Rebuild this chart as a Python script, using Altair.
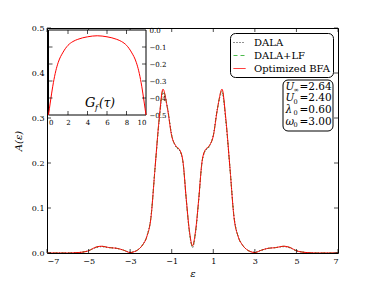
import altair as alt
import pandas as pd

# ---- data ----
eps = [-7, -6, -5.5, -5, -4.7, -4.4, -4.0, -3.6, -3.3, -3.0, -2.8, -2.6, -2.4, -2.2, -2.0,
       -1.8, -1.6, -1.42, -1.2, -1.0, -0.8, -0.6, -0.45, -0.3, -0.15, 0.0, 0.15, 0.3, 0.45,
       0.6, 0.8, 1.0, 1.2, 1.42, 1.6, 1.8, 2.0, 2.2, 2.4, 2.6, 2.8, 3.0, 3.3, 3.6, 4.0, 4.4,
       4.7, 5.0, 5.5, 6, 7]
bfa = [0, 0, 0.001, 0.005, 0.012, 0.015, 0.012, 0.010, 0.006, 0.001, 0.003, 0.008, 0.018,
       0.036, 0.078, 0.19, 0.30, 0.364, 0.32, 0.26, 0.238, 0.228, 0.20, 0.12, 0.05, 0.016,
       0.05, 0.12, 0.20, 0.228, 0.238, 0.26, 0.32, 0.364, 0.30, 0.19, 0.078, 0.036, 0.018,
       0.008, 0.003, 0.001, 0.006, 0.010, 0.012, 0.015, 0.012, 0.005, 0.001, 0, 0]
dala = [0, 0, 0.001, 0.005, 0.011, 0.014, 0.012, 0.010, 0.006, 0.002, 0.003, 0.008, 0.018,
        0.037, 0.080, 0.19, 0.295, 0.356, 0.322, 0.262, 0.236, 0.226, 0.198, 0.118, 0.046,
        0.012, 0.046, 0.118, 0.198, 0.226, 0.236, 0.262, 0.322, 0.356, 0.295, 0.19, 0.080,
        0.037, 0.018, 0.008, 0.003, 0.002, 0.006, 0.010, 0.012, 0.014, 0.011, 0.005, 0.001, 0, 0]
dala_lf = [0, 0, 0.001, 0.005, 0.012, 0.015, 0.012, 0.010, 0.006, 0.001, 0.003, 0.008, 0.018,
           0.036, 0.079, 0.19, 0.298, 0.361, 0.321, 0.261, 0.237, 0.227, 0.199, 0.119, 0.048,
           0.014, 0.048, 0.119, 0.199, 0.227, 0.237, 0.261, 0.321, 0.361, 0.298, 0.19, 0.079,
           0.036, 0.018, 0.008, 0.003, 0.001, 0.006, 0.010, 0.012, 0.015, 0.012, 0.005, 0.001, 0, 0]
series_names = ["DALA", "DALA+LF", "Optimized BFA"]

tau = [0, 0.1, 0.25, 0.5, 0.75, 1.0, 1.5, 2, 2.5, 3, 4, 5, 6, 7, 7.5, 8, 8.5, 9, 9.25, 9.5, 9.75, 9.9, 10]
gf = [-0.5, -0.46, -0.40, -0.31, -0.24, -0.19, -0.13, -0.09, -0.068, -0.055, -0.04, -0.034,
      -0.04, -0.055, -0.068, -0.09, -0.13, -0.19, -0.24, -0.31, -0.40, -0.46, -0.5]

x_ticks = [-7, -5, -3, -1, 1, 3, 5, 7]
y_ticks = [0.0, 0.1, 0.2, 0.3, 0.4, 0.5]
tau_ticks = [0, 2, 4, 6, 8, 10]
g_ticks = [-0.5, -0.4, -0.3, -0.2, -0.1, 0.0]

param_syms = ["U", "U", "λ", "ω"]
param_subs = ["∞", "0", "0", "0"]
param_vals = ["=2.64", "=2.40", "=0.60", "=3.00"]

# ---- layout ----
W, H = 291, 225
IX0, IX1, IY0, IY1 = 1.5, 99, 2, 87   # inset box inside the plot area (pixels)
FONT = "DejaVu Serif"

rows = []
for name, vals in zip(series_names, [dala, dala_lf, bfa]):
    for e, a in zip(eps, vals):
        rows.append({"eps": e, "A": a, "series": name})
df = pd.DataFrame(rows)
df_in = pd.DataFrame({"tau": tau, "G": gf})

xs = alt.Scale(domain=[-7, 7], nice=False, zero=False)
ys = alt.Scale(domain=[0, 0.5], nice=False, zero=False)
xaxis = alt.Axis(values=x_ticks, format="d", ticks=False, domain=False, grid=False,
                 labelFont=FONT, labelFontSize=8, labelPadding=4, labelColor="black",
                 title="ε", titleFont=FONT, titleFontStyle="italic", titleFontWeight="normal",
                 titleFontSize=10, titlePadding=3, titleColor="black")
yaxis = alt.Axis(values=y_ticks, format=".1f", ticks=False, domain=False, grid=False,
                 labelFont=FONT, labelFontSize=8, labelPadding=3, labelColor="black",
                 title="A(ε)", titleFont=FONT, titleFontStyle="italic", titleFontWeight="normal",
                 titleFontSize=10, titlePadding=8, titleColor="black")

legend = alt.Legend(title=None, orient="top-right", offset=5, padding=3, strokeColor="black",
                    cornerRadius=5, fillColor="white", labelFont=FONT, labelFontSize=10,
                    labelColor="black", symbolType="stroke", symbolSize=144, symbolStrokeWidth=1,
                    rowPadding=1, labelOffset=8)
color = alt.Color("series:N", scale=alt.Scale(domain=series_names,
                  range=["#222222", "#4cbb4c", "#ff0000"]), legend=legend)
dash = alt.StrokeDash("series:N", scale=alt.Scale(domain=series_names,
                      range=[[1, 2], [4, 3], [1, 0]]), legend=legend)

def line_layer(name):
    return alt.Chart(df).transform_filter(alt.datum.series == name).mark_line(
        interpolate="monotone", strokeWidth=1, clip=True).encode(
        x=alt.X("eps:Q", scale=xs, axis=xaxis),
        y=alt.Y("A:Q", scale=ys, axis=yaxis),
        color=color, strokeDash=dash)

dfx = pd.DataFrame({"v": x_ticks})
dfy = pd.DataFrame({"v": y_ticks})
tick_style = dict(color="black", thickness=1, size=4)
mt_top = alt.Chart(dfx).mark_tick(orient="vertical", **tick_style).encode(
    x=alt.X("v:Q", scale=xs, axis=xaxis), y=alt.value(2))
mt_bot = alt.Chart(dfx).mark_tick(orient="vertical", **tick_style).encode(
    x=alt.X("v:Q", scale=xs, axis=xaxis), y=alt.value(H - 2))
mt_left = alt.Chart(dfy).mark_tick(orient="horizontal", **tick_style).encode(
    y=alt.Y("v:Q", scale=ys, axis=yaxis), x=alt.value(2))
mt_right = alt.Chart(dfy).mark_tick(orient="horizontal", **tick_style).encode(
    y=alt.Y("v:Q", scale=ys, axis=yaxis), x=alt.value(W - 2))

main = alt.layer(line_layer("DALA"), line_layer("DALA+LF"), line_layer("Optimized BFA"),
                 mt_top, mt_bot, mt_left, mt_right)

# ---- inset ----
txs = alt.Scale(domain=[0, 10], range=[IX0, IX1], nice=False, zero=False)
tys = alt.Scale(domain=[-0.5, 0], range=[IY1, IY0], nice=False, zero=False)
ixaxis = alt.Axis(orient="bottom", offset=-(H - IY1), values=tau_ticks, format="d", ticks=False,
                  domain=False, grid=False, labelFont=FONT, labelFontSize=7, labelPadding=3,
                  labelColor="black", title=None)
iyaxis = alt.Axis(orient="right", offset=-(W - IX1), values=g_ticks, format=".1f", ticks=False,
                  domain=False, grid=False, labelFont=FONT, labelFontSize=7, labelPadding=3,
                  labelColor="black", title=None)

one = alt.Data(values=[{}])
inset_box = alt.Chart(one).mark_rect(fill="white", stroke="black", strokeWidth=1).encode(
    x=alt.value(IX0), x2=alt.value(IX1), y=alt.value(IY0), y2=alt.value(IY1))
inset_line = alt.Chart(df_in).mark_line(interpolate="monotone", color="#ff0000", strokeWidth=1).encode(
    x=alt.X("tau:Q", scale=txs, axis=ixaxis), y=alt.Y("G:Q", scale=tys, axis=iyaxis))
dft = pd.DataFrame({"v": tau_ticks[1:-1]})
dfg = pd.DataFrame({"v": g_ticks[1:-1]})
it_top = alt.Chart(dft).mark_tick(orient="vertical", **tick_style).encode(
    x=alt.X("v:Q", scale=txs, axis=ixaxis), y=alt.value(IY0 + 2))
it_bot = alt.Chart(dft).mark_tick(orient="vertical", **tick_style).encode(
    x=alt.X("v:Q", scale=txs, axis=ixaxis), y=alt.value(IY1 - 2))
it_left = alt.Chart(dfg).mark_tick(orient="horizontal", **tick_style).encode(
    y=alt.Y("v:Q", scale=tys, axis=iyaxis), x=alt.value(IX0 + 2))
it_right = alt.Chart(dfg).mark_tick(orient="horizontal", **tick_style).encode(
    y=alt.Y("v:Q", scale=tys, axis=iyaxis), x=alt.value(IX1 - 2))

g_main = alt.Chart(one).mark_text(text="G", font=FONT, fontStyle="italic", fontSize=13,
                                  align="left", baseline="alphabetic", color="black").encode(
    x=alt.value(38), y=alt.value(79))
g_sub = alt.Chart(one).mark_text(text="f", font=FONT, fontStyle="italic", fontSize=8,
                                 align="left", baseline="alphabetic", color="black").encode(
    x=alt.value(48), y=alt.value(82))
g_arg = alt.Chart(one).mark_text(text="(τ)", font=FONT, fontStyle="italic", fontSize=12,
                                 align="left", baseline="alphabetic", color="black").encode(
    x=alt.value(52), y=alt.value(79))

inset = alt.layer(inset_box, inset_line, it_top, it_bot, it_left, it_right, g_main, g_sub, g_arg)

# ---- parameter box ----
pbox = alt.Chart(one).mark_rect(fill="white", stroke="black", strokeWidth=1, cornerRadius=5).encode(
    x=alt.value(236), x2=alt.value(286), y=alt.value(52), y2=alt.value(103))
p_sym = alt.Chart(one).mark_text(text="\n".join(param_syms), lineBreak="\n", lineHeight=11.7,
                                 font=FONT, fontStyle="italic", fontSize=10.5, align="left",
                                 baseline="middle", color="black").encode(
    x=alt.value(238.5), y=alt.value(58.5))
p_sub = alt.Chart(one).mark_text(text="\n".join(param_subs), lineBreak="\n", lineHeight=11.7,
                                 font=FONT, fontSize=6.5, align="left",
                                 baseline="middle", color="black").encode(
    x=alt.value(246.5), y=alt.value(62))
p_val = alt.Chart(one).mark_text(text="\n".join(param_vals), lineBreak="\n", lineHeight=11.7,
                                 font=FONT, fontSize=10.5, align="left",
                                 baseline="middle", color="black").encode(
    x=alt.value(252.5), y=alt.value(58.5))
params = alt.layer(pbox, p_sym, p_sub, p_val)

chart = alt.layer(main, inset, params).resolve_scale(
    x="independent", y="independent"
).properties(
    width=W, height=H, autosize="none",
    padding={"left": 39, "top": 20, "right": 22, "bottom": 26},
).configure_view(stroke="black", strokeWidth=1)

chart.save("out.html", embed_options={"renderer": "svg", "actions": False})
